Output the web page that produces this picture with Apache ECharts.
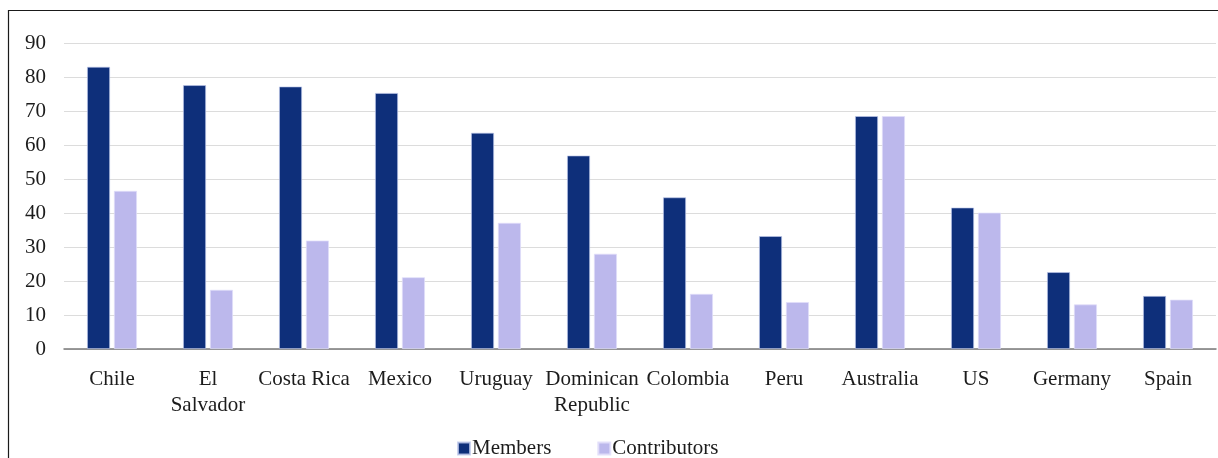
<!DOCTYPE html>
<html>
<head>
<meta charset="utf-8">
<style>
  html, body { margin: 0; padding: 0; background: #ffffff; }
  #chart { width: 1218px; height: 458px; }
</style>
<script src="https://cdn.jsdelivr.net/npm/echarts@6/dist/echarts.min.js"></script>
</head>
<body>
<div id="chart"></div>
<script>
// Countries shown along the category axis (line breaks as printed)
const categories = ['Chile', 'El\nSalvador', 'Costa Rica', 'Mexico', 'Uruguay',
  'Dominican\nRepublic', 'Colombia', 'Peru', 'Australia', 'US', 'Germany', 'Spain'];

// Share of members and contributors (%)
const members = [83.0, 77.6, 77.2, 75.3, 63.6, 56.9, 44.6, 33.2, 68.5, 41.6, 22.6, 15.6];
const contributors = [46.5, 17.4, 31.9, 21.1, 37.1, 28.0, 16.2, 13.8, 68.5, 40.1, 13.1, 14.5];

const seriesNames = ['Members', 'Contributors'];

const FONT = '"Liberation Serif", "DejaVu Serif", serif';
const TEXT_COLOR = '#1c1c1c';

const chart = echarts.init(document.getElementById('chart'), null, { renderer: 'canvas' });

chart.setOption({
  animation: false,
  backgroundColor: '#ffffff',
  textStyle: { fontFamily: FONT },
  graphic: [{
    type: 'rect',
    silent: true,
    shape: { x: 8.5, y: 10.5, width: 1400, height: 700 },
    style: { fill: 'none', stroke: '#1a1a1a', lineWidth: 1.2 }
  }],
  grid: { left: 64, right: 2, top: 43, bottom: 109 },
  legend: {
    data: seriesNames,
    bottom: -6,
    left: 452,
    itemWidth: 12,
    itemHeight: 12,
    itemGap: 46,
    icon: 'rect',
    textStyle: { fontFamily: FONT, fontSize: 21, color: TEXT_COLOR, padding: [0, 0, 0, -3] }
  },
  xAxis: {
    type: 'category',
    data: categories,
    axisLine: { lineStyle: { color: '#7a7a7a', width: 1.5 } },
    axisTick: { show: false },
    axisLabel: {
      fontFamily: FONT,
      fontSize: 21,
      color: TEXT_COLOR,
      margin: 17,
      lineHeight: 26,
      interval: 0
    }
  },
  yAxis: {
    type: 'value',
    min: 0,
    max: 90,
    interval: 10,
    axisLine: { show: false },
    axisTick: { show: false },
    splitLine: { lineStyle: { color: '#dcdcdc', width: 1.2 } },
    axisLabel: { fontFamily: FONT, fontSize: 21, color: TEXT_COLOR, margin: 18 }
  },
  series: [
    {
      name: seriesNames[0],
      type: 'bar',
      data: members,
      barWidth: 23,
      barGap: '17%',
      itemStyle: { color: '#0e2f7a', borderColor: 'rgba(190,200,235,0.8)', borderWidth: 0.8 }
    },
    {
      name: seriesNames[1],
      type: 'bar',
      data: contributors,
      barWidth: 23,
      barGap: '17%',
      itemStyle: { color: '#bcb8ec', borderColor: 'rgba(225,222,250,0.9)', borderWidth: 0.8 }
    }
  ]
});
</script>
</body>
</html>
